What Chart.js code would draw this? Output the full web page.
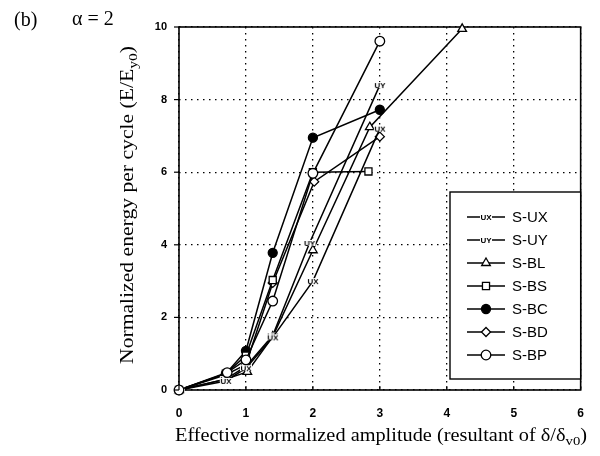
<!DOCTYPE html>
<html>
<head>
<meta charset="utf-8">
<script src="https://cdn.jsdelivr.net/npm/chart.js@4/dist/chart.umd.min.js"></script>
<style>
  html, body { margin: 0; padding: 0; background: #fff; }
  #wrap { width: 600px; height: 456px; position: relative; }
</style>
</head>
<body>
<div id="wrap"><canvas id="energyChart"></canvas></div>
<script>
// === Data (x = effective normalized amplitude, y = E/Ey0) ===
const seriesNames = ["S-UX", "S-UY", "S-BL", "S-BS", "S-BC", "S-BD", "S-BP"];

const uxX = [0, 0.7, 1.0, 1.4, 2.0, 3.0];
const uxY = [0, 0.25, 0.6, 1.45, 3.0, 7.2];

const uyX = [0, 0.7, 1.0, 1.4, 1.95, 3.0];
const uyY = [0, 0.3, 0.65, 1.5, 4.05, 8.4];

const blX = [0, 0.7, 1.02, 1.4, 2.0, 2.85, 4.23];
const blY = [0, 0.3, 0.5, 1.47, 3.85, 7.24, 9.95];

const bsX = [0, 0.7, 1.0, 1.4, 2.0, 2.83];
const bsY = [0, 0.45, 0.95, 3.03, 6.0, 6.02];

const bcX = [0, 0.7, 1.0, 1.4, 2.0, 3.0];
const bcY = [0, 0.45, 1.08, 3.78, 6.95, 7.72];

const bdX = [0, 0.7, 1.0, 1.4, 2.02, 3.0];
const bdY = [0, 0.42, 0.7, 2.95, 5.74, 6.98];

const bpX = [0, 0.72, 1.0, 1.4, 2.0, 3.0];
const bpY = [0, 0.48, 0.83, 2.45, 5.97, 9.61];

const xTicks = [0, 1, 2, 3, 4, 5, 6];
const yTicks = [0, 2, 4, 6, 8, 10];

// === Small text markers used by the UX / UY series ===
function textMarker(txt) {
  const c = document.createElement("canvas");
  c.width = 16; c.height = 10;
  const g = c.getContext("2d");
  g.fillStyle = "#fff";
  g.fillRect(2, 2, 12, 6);
  g.fillStyle = "#000";
  g.font = 'bold 8px "Liberation Sans"';
  g.textAlign = "center";
  g.textBaseline = "middle";
  g.fillText(txt, 8, 5.5);
  return c;
}

const toPts = (xs, ys) => xs.map((x, i) => ({ x: x, y: ys[i] }));

function makeSet(label, xs, ys, style, fill, radius, order) {
  return {
    label: label,
    data: toPts(xs, ys),
    borderColor: "#000",
    borderWidth: 1.5,
    pointStyle: style,
    pointRadius: radius,
    pointBackgroundColor: fill,
    pointBorderColor: "#000",
    pointBorderWidth: 1.3,
    fill: false,
    clip: false,
    order: order,
    tension: 0
  };
}

const datasets = [
  makeSet(seriesNames[0], uxX, uxY, textMarker("UX"), "#fff", 5, 0),
  makeSet(seriesNames[1], uyX, uyY, textMarker("UY"), "#fff", 5, 0),
  makeSet(seriesNames[2], blX, blY, "triangle", "#fff", 5, 0),
  makeSet(seriesNames[3], bsX, bsY, "rect", "#fff", 5, 0),
  makeSet(seriesNames[4], bcX, bcY, "circle", "#000", 4.5, 0),
  makeSet(seriesNames[5], bdX, bdY, "rectRot", "#fff", 4.5, 0),
  makeSet(seriesNames[6], bpX, bpY, "circle", "#fff", 4.8, -1)
];

// draws "main + subscript + tail" stretched to a given width, centred on (0,0)
function drawSubTitle(ctx, main, sub, tail, targetW) {
  ctx.font = '18px "Liberation Serif"';
  const w1 = ctx.measureText(main).width;
  const w3 = ctx.measureText(tail).width;
  ctx.font = '13px "Liberation Serif"';
  const w2 = ctx.measureText(sub).width;
  const total = w1 + w2 + w3;
  ctx.save();
  ctx.scale(targetW / total, 1);
  const sx = -total / 2;
  ctx.textAlign = "left";
  ctx.textBaseline = "middle";
  ctx.font = '18px "Liberation Serif"';
  ctx.fillText(main, sx, 0);
  ctx.font = '13px "Liberation Serif"';
  ctx.fillText(sub, sx + w1, 6);
  ctx.font = '18px "Liberation Serif"';
  ctx.fillText(tail, sx + w1 + w2, 0);
  ctx.restore();
}

// === Frame, tick marks, titles and inner legend ===
const decorations = {
  id: "decorations",
  beforeDatasetsDraw(chart) {
    // frame under the data so edge markers sit on top of it
    const { ctx, chartArea: a } = chart;
    ctx.save();
    ctx.strokeStyle = "#000";
    ctx.lineWidth = 1.6;
    ctx.setLineDash([]);
    ctx.strokeRect(a.left, a.top, a.right - a.left, a.bottom - a.top);
    ctx.restore();
  },
  afterDraw(chart) {
    const { ctx, chartArea: a, scales } = chart;
    ctx.save();
    ctx.strokeStyle = "#000";
    ctx.setLineDash([]);

    // tick marks
    ctx.lineWidth = 1.2;
    yTicks.forEach(v => {
      const y = scales.y.getPixelForValue(v);
      ctx.beginPath(); ctx.moveTo(a.left - 5, y); ctx.lineTo(a.left, y); ctx.stroke();
    });
    xTicks.forEach(v => {
      const x = scales.x.getPixelForValue(v);
      ctx.beginPath(); ctx.moveTo(x, a.bottom); ctx.lineTo(x, a.bottom - 4); ctx.stroke();
    });

    // panel label
    ctx.fillStyle = "#000";
    ctx.font = '20px "Liberation Serif"';
    ctx.textBaseline = "middle";
    ctx.textAlign = "left";
    ctx.fillText("(b)", 14, 21);
    ctx.fillText("\u03b1 = 2", 72, 20);

    // x title
    ctx.save();
    ctx.translate(381, 436);
    drawSubTitle(ctx, "Effective normalized amplitude (resultant of \u03b4/\u03b4", "v0", ")", 412);
    ctx.restore();

    // y title (rotated)
    ctx.save();
    ctx.translate(128, 205);
    ctx.rotate(-Math.PI / 2);
    drawSubTitle(ctx, "Normalized energy per cycle (E/E", "y0", ")", 318);
    ctx.restore();

    // inner legend box
    const bx = 450, by = 192, bw = a.right - 450, bh = 187;
    ctx.fillStyle = "#fff";
    ctx.fillRect(bx, by, bw, bh);
    ctx.lineWidth = 1.4;
    ctx.strokeStyle = "#000";
    ctx.strokeRect(bx, by, bw, bh);

    chart.data.datasets.forEach((ds, i) => {
      const y = 217 + i * 23;
      ctx.strokeStyle = "#000";
      ctx.lineWidth = 1.5;
      ctx.beginPath(); ctx.moveTo(467, y); ctx.lineTo(505, y); ctx.stroke();
      ctx.fillStyle = ds.pointBackgroundColor;
      ctx.lineWidth = ds.pointBorderWidth;
      Chart.helpers.drawPoint(ctx, {
        pointStyle: ds.pointStyle, radius: ds.pointRadius, rotation: 0, borderWidth: ds.pointBorderWidth
      }, 486, y);
      ctx.fillStyle = "#000";
      ctx.font = '15px "Liberation Sans"';
      ctx.textAlign = "left";
      ctx.textBaseline = "middle";
      ctx.fillText(ds.label, 512, y + 1);
    });

    ctx.restore();
  }
};

const ctx = document.getElementById("energyChart").getContext("2d");
const energyChart = new Chart(ctx, {
  type: "line",
  data: { datasets: datasets },
  options: {
    responsive: true,
    maintainAspectRatio: false,
    animation: false,
    layout: { padding: { top: 27, right: 16, left: 0, bottom: 0 } },
    plugins: { legend: { display: false }, tooltip: { enabled: false } },
    scales: {
      x: {
        type: "linear",
        min: 0, max: 6,
        afterFit: s => { s.height = 66; },
        afterBuildTicks: s => { s.ticks = xTicks.map(v => ({ value: v })); },
        grid: { color: "#000", lineWidth: 1.3, drawTicks: false },
        border: { display: false, dash: [1.5, 4.5] },
        ticks: { padding: 16, color: "#000", font: { family: "Liberation Sans", size: 12, weight: "bold" } }
      },
      y: {
        type: "linear",
        min: 0, max: 10,
        afterFit: s => { s.width = 179; },
        afterBuildTicks: s => { s.ticks = yTicks.map(v => ({ value: v })); },
        grid: { color: "#000", lineWidth: 1.3, drawTicks: false },
        border: { display: false, dash: [1.5, 4.5] },
        ticks: { padding: 12, color: "#000", font: { family: "Liberation Sans", size: 11, weight: "bold" } }
      }
    }
  },
  plugins: [decorations]
});
</script>
</body>
</html>
